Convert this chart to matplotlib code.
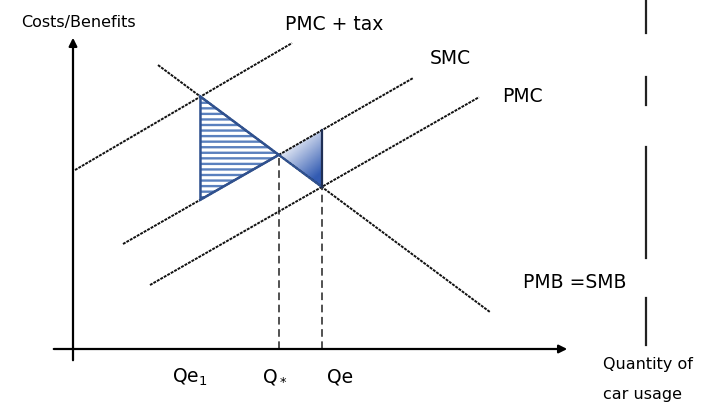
import numpy as np
import matplotlib
matplotlib.use("Agg")
import matplotlib.pyplot as plt
from matplotlib.patches import Polygon

plt.rcParams['font.family'] = ['DejaVu Sans']
plt.rcParams['mathtext.fontset'] = 'dejavusans'
plt.rcParams['hatch.linewidth'] = 1.7

# ---- data (diagram units: quantity on x, costs/benefits on y) ----
line_names = ["PMC + tax", "SMC", "PMC"]
supply_intercepts = [17.78, 7.64, 2.0]
supply_slopes = [0.585, 0.572, 0.571]
supply_x_ranges = [(0.2, 21.9), (5.0, 34.0), (7.7, 40.6)]

demand_label = "PMB =SMB"
demand_intercept = 34.72
demand_slope = -0.744
demand_x_range = (8.5, 41.7)

q_labels = ["Qe$_1$", "Q$_*$", "Qe"]
q_label_x = [9.9, 18.9, 25.4]
axis_y_label = "Costs/Benefits"
axis_x_label = ["Quantity of", "car usage"]

# right-hand border segments (y ranges) at x position
border_x = 57.3
border_segments = [(31.6, 35.0), (24.4, 27.2), (9.1, 20.2), (0.4, 5.1)]


def supply(i, x):
    return supply_intercepts[i] + supply_slopes[i] * x


def demand(x):
    return demand_intercept + demand_slope * x


def cross(i):
    x = (demand_intercept - supply_intercepts[i]) / (supply_slopes[i] - demand_slope)
    return x, demand(x)


fig = plt.figure(figsize=(7.09, 4.16), dpi=100)
ax = fig.add_axes([0, 0, 1, 1])
ax.set_xlim(-7.3, 63.6)
ax.set_ylim(-6.7, 34.9)
ax.axis('off')

line_kw = dict(color='#111111', lw=1.4, linestyle=(0, (1.5, 0.55)))

# supply curves
for i in range(3):
    x0, x1 = supply_x_ranges[i]
    xs = np.array([x0, x1])
    ax.plot(xs, supply(i, xs), **line_kw, zorder=3)

# demand
xs = np.array(demand_x_range)
ax.plot(xs, demand(xs), **line_kw, zorder=3)

# intersections
qe1 = cross(0)
qstar = cross(1)
qe = cross(2)

# triangle 1 (hatched)
tri1 = [qe1, (qe1[0], supply(1, qe1[0])), qstar]
p1 = Polygon(tri1, closed=True, facecolor='white', edgecolor='#5a80be',
             hatch='---', lw=0, zorder=2)
ax.add_patch(p1)
ax.add_patch(Polygon(tri1, closed=True, fill=False, edgecolor='#2f5190',
                     lw=1.8, zorder=4))

# triangle 2 (gradient)
tri2 = [qstar, (qe[0], supply(1, qe[0])), qe]
p2 = Polygon(tri2, closed=True, facecolor='none', edgecolor='none', zorder=2)
ax.add_patch(p2)
xmin, xmax = qstar[0], qe[0]
ymin, ymax = qe[1], supply(1, qe[0])
gx = np.linspace(0, 1, 100)
gy = np.linspace(0, 1, 100)
GX, GY = np.meshgrid(gx, gy)
t = np.clip(0.6 * GX + 0.9 * GY - 0.25, 0, 1)
c0 = np.array([1.0, 1.0, 1.0])
c1 = np.array([0.20, 0.36, 0.70])
img = c0[None, None, :] * (1 - t[..., None]) + c1[None, None, :] * t[..., None]
im = ax.imshow(img, extent=(xmin, xmax, ymin, ymax), origin='upper',
               aspect='auto', zorder=2)
im.set_clip_path(p2)
ax.plot([tri2[0][0], tri2[2][0]], [tri2[0][1], tri2[2][1]], color='#2f5190', lw=1.6, zorder=4)
ax.plot([tri2[1][0], tri2[2][0]], [tri2[1][1], tri2[2][1]], color='#1f2f55', lw=1.6, zorder=4)

# dashed drop lines
for pt in (qstar, qe):
    ax.plot([pt[0], pt[0]], [0, pt[1]], color='#222222', lw=1.1,
            linestyle=(0, (5, 3)), zorder=3)

# axes arrows
ax.annotate('', xy=(0, 31.4), xytext=(0, -1.4),
            arrowprops=dict(arrowstyle='-|>', color='black', lw=1.6,
                            mutation_scale=12), zorder=5)
ax.annotate('', xy=(49.7, 0), xytext=(-2.2, 0),
            arrowprops=dict(arrowstyle='-|>', color='black', lw=1.6,
                            mutation_scale=12), zorder=5)

# right border segments
for y0, y1 in border_segments:
    ax.plot([border_x, border_x], [y0, y1], color='#222222', lw=1.6)

# labels
main_fs = 13.5
ax.text(0.5, 32.7, axis_y_label, ha='center', va='center', fontsize=11.5)
ax.text(21.2, 32.4, line_names[0], ha='left', va='center', fontsize=main_fs)
ax.text(35.7, 29.1, line_names[1], ha='left', va='center', fontsize=main_fs)
ax.text(42.9, 25.2, line_names[2], ha='left', va='center', fontsize=main_fs)
ax.text(45.0, 6.7, demand_label, ha='left', va='center', fontsize=main_fs)
for lab, x in zip(q_labels, q_label_x):
    ax.text(x, -2.8, lab, ha='left', va='center', fontsize=13.5)
ax.text(53.0, -1.6, axis_x_label[0], ha='left', va='center', fontsize=11.5)
ax.text(53.0, -4.6, axis_x_label[1], ha='left', va='center', fontsize=11.5)

fig.savefig('out.png', dpi=100)
